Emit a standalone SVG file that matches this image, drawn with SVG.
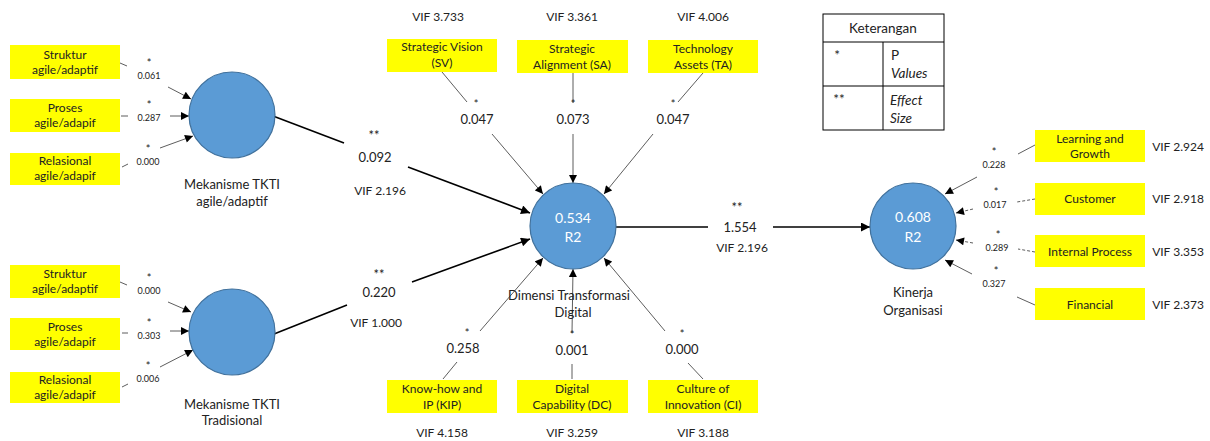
<svg xmlns="http://www.w3.org/2000/svg" width="1210" height="441" viewBox="0 0 1210 441">
<defs>
<marker id="ah" viewBox="0 0 10 10" refX="10" refY="5" markerWidth="9" markerHeight="8" markerUnits="userSpaceOnUse" orient="auto"><path d="M0,0 L10,5 L0,10 z" fill="#000"/></marker>
<marker id="ahb" viewBox="0 0 10 10" refX="10" refY="5" markerWidth="11" markerHeight="9" markerUnits="userSpaceOnUse" orient="auto"><path d="M0,0 L10,5 L0,10 z" fill="#000"/></marker>
</defs>
<style>
text{font-family:Lato,"Open Sans","Liberation Sans",sans-serif;fill:#222;text-anchor:middle}
.box{fill:#FFFF00;stroke:none}
.bt{font-size:12px}
.vif{font-size:12px}
.sm{font-size:9px}
.st{font-size:11px}
.mid{font-size:13px}
.lbl{font-size:13px}
.cin{font-size:14px;fill:#fff}
.lg{font-size:13.5px}
.circ{fill:#5B9BD5;stroke:#41719C;stroke-width:1.2}
.thin{stroke:#333;stroke-width:0.8;fill:none}
.dash{stroke:#333;stroke-width:0.8;fill:none;stroke-dasharray:3,2}
.thick{stroke:#000;stroke-width:1.6;fill:none}
.leg{fill:#fff;stroke:#000;stroke-width:1}
.it{font-style:italic;text-anchor:start}
</style>
<rect width="1210" height="441" fill="#fff"/>

<g id="connectors">
<line class="thin" x1="120" y1="63" x2="127" y2="66"/>
<line class="thin" x1="168" y1="87" x2="191" y2="99" marker-end="url(#ah)"/>
<line class="thin" x1="121" y1="116" x2="128" y2="116"/>
<line class="thin" x1="170" y1="116" x2="189" y2="116" marker-end="url(#ah)"/>
<line class="thin" x1="122" y1="167" x2="128" y2="164"/>
<line class="thin" x1="160" y1="148" x2="193" y2="136" marker-end="url(#ah)"/>
<line class="thin" x1="120" y1="282" x2="127" y2="285"/>
<line class="thin" x1="168" y1="302" x2="191" y2="312" marker-end="url(#ah)"/>
<line class="thin" x1="122" y1="333" x2="128" y2="333"/>
<line class="thin" x1="170" y1="331" x2="189" y2="331" marker-end="url(#ah)"/>
<line class="thin" x1="122" y1="387" x2="128" y2="384"/>
<line class="thin" x1="160" y1="367" x2="193" y2="350" marker-end="url(#ah)"/>
<line class="thick" x1="273" y1="116" x2="344" y2="143"/>
<line class="thick" x1="408" y1="167" x2="530" y2="213" marker-end="url(#ahb)"/>
<line class="thick" x1="274" y1="334" x2="347" y2="305"/>
<line class="thick" x1="412" y1="282" x2="530" y2="239" marker-end="url(#ahb)"/>
<line class="thick" x1="616" y1="227" x2="708" y2="227"/>
<line class="thick" x1="773" y1="227" x2="870" y2="227" marker-end="url(#ahb)"/>
<line class="thin" x1="442" y1="72" x2="467" y2="102"/>
<line class="thin" x1="492" y1="134" x2="543" y2="194" marker-end="url(#ah)"/>
<line class="thin" x1="573" y1="73" x2="573" y2="103"/>
<line class="thin" x1="573" y1="134" x2="573" y2="183" marker-end="url(#ah)"/>
<line class="thin" x1="703" y1="73" x2="678" y2="102"/>
<line class="thin" x1="653" y1="134" x2="604" y2="194" marker-end="url(#ah)"/>
<line class="thin" x1="457" y1="362" x2="443" y2="379"/>
<line class="thin" x1="480" y1="331" x2="543" y2="258" marker-end="url(#ah)"/>
<line class="thin" x1="572" y1="364" x2="572" y2="379"/>
<line class="thin" x1="572" y1="333" x2="573" y2="269" marker-end="url(#ah)"/>
<line class="thin" x1="688" y1="363" x2="703" y2="379"/>
<line class="thin" x1="665" y1="331" x2="604" y2="258" marker-end="url(#ah)"/>
<line class="thin" x1="1035" y1="145" x2="1018" y2="154"/>
<line class="thin" x1="977" y1="177" x2="945" y2="194" marker-end="url(#ah)"/>
<line class="dash" x1="1035" y1="199" x2="1017" y2="202"/>
<line class="dash" x1="973" y1="209" x2="956" y2="213" marker-end="url(#ah)"/>
<line class="dash" x1="1035" y1="252" x2="1018" y2="249"/>
<line class="dash" x1="973" y1="243" x2="956" y2="240" marker-end="url(#ah)"/>
<line class="thin" x1="1035" y1="305" x2="1017" y2="297"/>
<line class="thin" x1="972" y1="274" x2="945" y2="260" marker-end="url(#ah)"/>
</g>

<g id="path-labels">
<text class="st" x="149" y="67.3">*</text><text class="sm" x="149" y="79">0.061</text>
<text class="st" x="149" y="109.3">*</text><text class="sm" x="149" y="121">0.287</text>
<text class="st" x="148" y="153.3">*</text><text class="sm" x="148" y="165">0.000</text>
<text class="st" x="149" y="282.3">*</text><text class="sm" x="149" y="294">0.000</text>
<text class="st" x="149" y="327.3">*</text><text class="sm" x="149" y="339">0.303</text>
<text class="st" x="148" y="370.3">*</text><text class="sm" x="148" y="382">0.006</text>
<text class="mid" x="374" y="140">**</text><text class="mid" x="375" y="162">0.092</text><text class="vif" x="380" y="195">VIF 2.196</text>
<text class="mid" x="379" y="279">**</text><text class="mid" x="379" y="297">0.220</text><text class="vif" x="376" y="327">VIF 1.000</text>
<text class="mid" x="737" y="212">**</text><text class="mid" x="740" y="232">1.554</text><text class="vif" x="742" y="252">VIF 2.196</text>
<text class="st" x="476" y="108.4">*</text><text class="mid" x="477" y="124">0.047</text>
<text class="st" x="573" y="108.4">*</text><text class="mid" x="573" y="124">0.073</text>
<text class="st" x="673" y="108.4">*</text><text class="mid" x="673" y="124">0.047</text>
<text class="st" x="467" y="337.4">*</text><text class="mid" x="463" y="353">0.258</text>
<text class="st" x="572" y="339.4">*</text><text class="mid" x="572" y="355">0.001</text>
<text class="st" x="682" y="338.4">*</text><text class="mid" x="682" y="354">0.000</text>
<text class="st" x="994" y="156.3">*</text><text class="sm" x="994" y="168">0.228</text>
<text class="st" x="996" y="196.3">*</text><text class="sm" x="995" y="208">0.017</text>
<text class="st" x="998" y="239.3">*</text><text class="sm" x="997" y="251">0.289</text>
<text class="st" x="996" y="275.3">*</text><text class="sm" x="994" y="287">0.327</text>
</g>

<g id="mek-agile">
<circle class="circ" cx="232" cy="115" r="43"/>
<text class="lbl" x="232" y="189">Mekanisme TKTI</text>
<text class="lbl" x="232" y="206">agile/adaptif</text>
</g>
<g id="mek-trad">
<circle class="circ" cx="232" cy="332" r="43"/>
<text class="lbl" x="232" y="409">Mekanisme TKTI</text>
<text class="lbl" x="232" y="425">Tradisional</text>
</g>
<g id="dimensi">
<circle class="circ" cx="573" cy="226" r="43"/>
<text class="cin" x="573" y="223">0.534</text>
<text class="cin" x="573" y="242">R2</text>
<text class="lbl" x="569" y="300">Dimensi Transformasi</text>
<text class="lbl" x="573" y="317">Digital</text>
</g>
<g id="kinerja">
<circle class="circ" cx="913" cy="226" r="43"/>
<text class="cin" x="913" y="222">0.608</text>
<text class="cin" x="913" y="242">R2</text>
<text class="lbl" x="913" y="297">Kinerja</text>
<text class="lbl" x="913" y="315">Organisasi</text>
</g>

<g id="ind-struktur1"><rect class="box" x="10" y="45" width="110" height="34"/><text class="bt" x="65" y="59">Struktur</text><text class="bt" x="65" y="74">agile/adaptif</text></g>
<g id="ind-proses1"><rect class="box" x="10" y="99" width="110" height="33"/><text class="bt" x="65" y="112">Proses</text><text class="bt" x="65" y="127">agile/adapif</text></g>
<g id="ind-relasional1"><rect class="box" x="10" y="153" width="110" height="32"/><text class="bt" x="65" y="165">Relasional</text><text class="bt" x="65" y="180">agile/adapif</text></g>
<g id="ind-struktur2"><rect class="box" x="10" y="265" width="110" height="33"/><text class="bt" x="65" y="278">Struktur</text><text class="bt" x="65" y="293">agile/adaptif</text></g>
<g id="ind-proses2"><rect class="box" x="10" y="318" width="110" height="32"/><text class="bt" x="65" y="331">Proses</text><text class="bt" x="65" y="346">agile/adapif</text></g>
<g id="ind-relasional2"><rect class="box" x="10" y="372" width="110" height="31"/><text class="bt" x="65" y="384">Relasional</text><text class="bt" x="65" y="399">agile/adapif</text></g>

<g id="ind-sv"><text class="vif" x="438" y="21">VIF 3.733</text><rect class="box" x="387" y="39" width="110" height="33"/><text class="bt" x="442" y="51">Strategic Vision</text><text class="bt" x="442" y="67">(SV)</text></g>
<g id="ind-sa"><text class="vif" x="572" y="21">VIF 3.361</text><rect class="box" x="517" y="40" width="111" height="33"/><text class="bt" x="572" y="53">Strategic</text><text class="bt" x="572" y="69">Alignment (SA)</text></g>
<g id="ind-ta"><text class="vif" x="703" y="21">VIF 4.006</text><rect class="box" x="648" y="40" width="110" height="33"/><text class="bt" x="703" y="53">Technology</text><text class="bt" x="703" y="69">Assets (TA)</text></g>

<g id="ind-kip"><rect class="box" x="387" y="380" width="110" height="33"/><text class="bt" x="442" y="393">Know-how and</text><text class="bt" x="442" y="409">IP (KIP)</text><text class="vif" x="442" y="437">VIF 4.158</text></g>
<g id="ind-dc"><rect class="box" x="517" y="380" width="111" height="33"/><text class="bt" x="572" y="393">Digital</text><text class="bt" x="572" y="409">Capability (DC)</text><text class="vif" x="572" y="437">VIF 3.259</text></g>
<g id="ind-ci"><rect class="box" x="648" y="380" width="110" height="33"/><text class="bt" x="703" y="393">Culture of</text><text class="bt" x="703" y="409">Innovation (CI)</text><text class="vif" x="703" y="437">VIF 3.188</text></g>

<g id="ind-lg"><rect class="box" x="1035" y="130" width="110" height="32"/><text class="bt" x="1090" y="143">Learning and</text><text class="bt" x="1090" y="158">Growth</text><text class="vif" x="1178" y="151">VIF 2.924</text></g>
<g id="ind-cust"><rect class="box" x="1035" y="183" width="110" height="32"/><text class="bt" x="1090" y="203">Customer</text><text class="vif" x="1178" y="203">VIF 2.918</text></g>
<g id="ind-ip"><rect class="box" x="1035" y="235" width="110" height="32"/><text class="bt" x="1090" y="256">Internal Process</text><text class="vif" x="1178" y="256">VIF 3.353</text></g>
<g id="ind-fin"><rect class="box" x="1035" y="288" width="110" height="32"/><text class="bt" x="1090" y="309">Financial</text><text class="vif" x="1178" y="309">VIF 2.373</text></g>

<g id="legend">
<rect class="leg" x="823" y="14" width="121" height="116"/>
<line stroke="#000" stroke-width="1" x1="823" y1="42" x2="944" y2="42"/>
<line stroke="#000" stroke-width="1" x1="823" y1="86" x2="944" y2="86"/>
<line stroke="#000" stroke-width="1" x1="883" y1="42" x2="883" y2="130"/>
<text class="lg" x="883" y="33">Keterangan</text>
<text class="lg" x="837" y="60">*</text>
<text class="lg" style="text-anchor:start" x="891" y="60">P</text>
<text class="lg it" x="891" y="78">Values</text>
<text class="lg" x="839" y="104">**</text>
<text class="lg it" x="890" y="105">Effect</text>
<text class="lg it" x="890" y="123">Size</text>
</g>
</svg>
